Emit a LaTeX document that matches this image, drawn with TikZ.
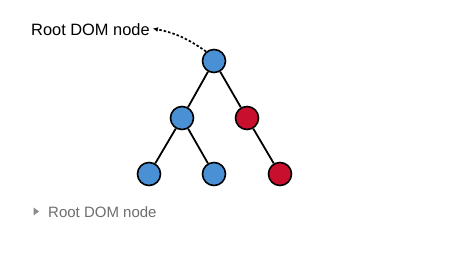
\documentclass[tikz,border=0pt]{standalone}
\usepackage{fontspec}
\setmainfont{Liberation Sans}
\usetikzlibrary{arrows.meta}
\definecolor{nodeblue}{HTML}{4A90D4}
\definecolor{nodered}{HTML}{C8102E}
\definecolor{capgray}{HTML}{6E6E6E}
\begin{document}
\begin{tikzpicture}[x=1pt,y=-1pt,
  domnode/.style={circle,draw=black,line width=1.6pt,minimum size=23pt,inner sep=0pt},
  bluenode/.style={domnode,fill=nodeblue},
  rednode/.style={domnode,fill=nodered},
  edge/.style={line width=1.8pt,black},
  labeltext/.style={font=\fontsize{16.4}{19}\selectfont,inner sep=0pt},
  captext/.style={font=\fontsize{15}{18}\selectfont,text=capgray,inner sep=0pt}]
\useasboundingbox[fill=white] (0,0) rectangle (468,253);
\node[bluenode] (root) at (214,61) {};
\node[bluenode] (ml) at (182,118) {};
\node[rednode] (mr) at (247,118) {};
\node[bluenode] (bl) at (149,174) {};
\node[bluenode] (bm) at (214,174) {};
\node[rednode] (br) at (280,174) {};
\draw[edge] (root) -- (ml);
\draw[edge] (root) -- (mr);
\draw[edge] (ml) -- (bl);
\draw[edge] (ml) -- (bm);
\draw[edge] (mr) -- (br);
\node[labeltext,anchor=west] (lbl) at (31,29.5) {Root DOM node};
\coordinate (arrend) at ([xshift=3pt,yshift=1pt]lbl.east);
\draw[line width=1.7pt,dash pattern=on 2.5pt off 2pt,-{Latex[length=5pt,width=5pt]}]
  (root.130) to[bend right=12] (arrend);
\node[captext,anchor=west] (cap) at (48,212) {Root DOM node};
\fill[capgray!80] (33.5,207.5) -- (39,211.5) -- (33.5,215.5) -- cycle;
\end{tikzpicture}
\end{document}
